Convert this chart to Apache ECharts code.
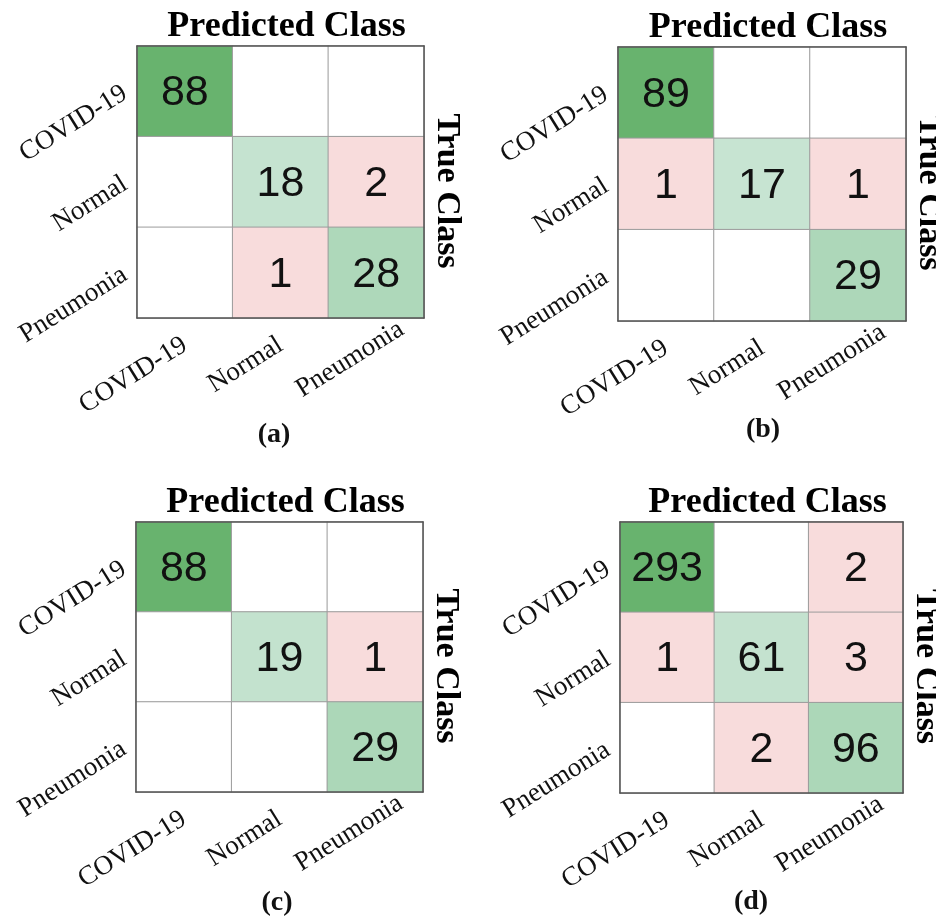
<!DOCTYPE html>
<html>
<head>
<meta charset="utf-8">
<script src="https://cdn.jsdelivr.net/npm/echarts@6/dist/echarts.min.js"></script>
<style>
  html, body { margin: 0; padding: 0; background: #ffffff; }
  #chart { width: 936px; height: 919px; }
</style>
</head>
<body>
<div id="chart"></div>
<script>
// Class labels shared by every confusion matrix
const classNames = ['COVID-19', 'Normal', 'Pneumonia'];
const panelTags = ['(a)', '(b)', '(c)', '(d)'];
const predictedTitle = 'Predicted Class';
const trueTitle = 'True Class';

// Confusion matrices: rows = true class, columns = predicted class
const matrixA = [[88, 0, 0], [0, 18, 2], [0, 1, 28]];
const matrixB = [[89, 0, 0], [1, 17, 1], [0, 0, 29]];
const matrixC = [[88, 0, 0], [0, 19, 1], [0, 0, 29]];
const matrixD = [[293, 0, 2], [1, 61, 3], [0, 2, 96]];
const matrices = [matrixA, matrixB, matrixC, matrixD];

// Plot boxes of the four panels (pixels)
const panelBoxes = [
  { left: 137, top: 46, width: 287, height: 272 },
  { left: 618, top: 47, width: 288, height: 274 },
  { left: 136, top: 522, width: 287, height: 270 },
  { left: 620, top: 522, width: 283, height: 271 }
];
const tagPositions = [[274, 435], [763, 430], [277, 903], [751, 902]];

const serif = '"Liberation Serif", "Times New Roman", serif';
const sans = '"Liberation Sans", Arial, sans-serif';

// Diagonal cells: white-to-green ramp by share of the largest diagonal count
const greenStops = [[0, '#e2f1e7'], [0.2, '#c6e3d1'], [0.33, '#acd7b8'], [1, '#68b36e']];
const offDiagColor = '#f8dcdc';

function hexToRgb(h) {
  const n = parseInt(h.slice(1), 16);
  return [(n >> 16) & 255, (n >> 8) & 255, n & 255];
}
function greenFor(t) {
  t = Math.max(0, Math.min(1, t));
  for (let i = 1; i < greenStops.length; i++) {
    const [t1, c1] = greenStops[i - 1];
    const [t2, c2] = greenStops[i];
    if (t <= t2) {
      const k = (t - t1) / (t2 - t1);
      const a = hexToRgb(c1), b = hexToRgb(c2);
      const rgb = a.map((v, j) => Math.round(v + (b[j] - v) * k));
      return 'rgb(' + rgb.join(',') + ')';
    }
  }
  return greenStops[greenStops.length - 1][1];
}

const grid = [], xAxis = [], yAxis = [], series = [], graphic = [];

matrices.forEach((m, i) => {
  const box = panelBoxes[i];
  grid.push({
    left: box.left, top: box.top, width: box.width, height: box.height,
    containLabel: false, outerBoundsMode: 'none'
  });

  const maxDiag = Math.max(...m.map((row, r) => row[r]));

  // bottom axis: predicted class labels
  xAxis.push({
    type: 'category', gridIndex: i, position: 'bottom', data: classNames.map(name => (
      name === 'Pneumonia' ? { value: name, textStyle: { padding: [22, -30, 0, 0] } } : name
    )),
    z: 10,
    axisLine: { show: true, lineStyle: { color: '#555', width: 1.5 } },
    axisTick: { show: false },
    splitLine: { show: false },
    axisLabel: { rotate: 32, margin: 25, fontFamily: serif, fontSize: 27, color: '#111', interval: 0 }
  });
  // top axis: border line and "Predicted Class" heading
  xAxis.push({
    type: 'category', gridIndex: i, position: 'top', data: classNames,
    z: 10,
    axisLine: { show: true, lineStyle: { color: '#555', width: 1.5 } },
    axisTick: { show: false }, axisLabel: { show: false }, splitLine: { show: false },
    name: predictedTitle, nameLocation: 'middle', nameGap: 1,
    nameTextStyle: { fontFamily: serif, fontWeight: 'bold', fontSize: 36, color: '#000', padding: [0, 0, 0, 12] }
  });
  // left axis: true class labels
  yAxis.push({
    type: 'category', gridIndex: i, position: 'left', data: classNames, inverse: true,
    z: 10,
    axisLine: { show: true, lineStyle: { color: '#555', width: 1.5 } },
    axisTick: { show: false },
    splitLine: { show: false },
    axisLabel: { rotate: 32, margin: 12, fontFamily: serif, fontSize: 27, color: '#111', interval: 0 }
  });
  // right axis: border line and "True Class" heading
  yAxis.push({
    type: 'category', gridIndex: i, position: 'right', data: classNames, inverse: true,
    z: 10,
    axisLine: { show: true, lineStyle: { color: '#555', width: 1.5 } },
    axisTick: { show: false }, axisLabel: { show: false }, splitLine: { show: false },
    name: trueTitle, nameLocation: 'middle', nameRotate: -90, nameGap: 6,
    nameTextStyle: { fontFamily: serif, fontWeight: 'bold', fontSize: 34, color: '#000', padding: [0, 0, 0, 18] }
  });

  const cells = [];
  m.forEach((row, r) => {
    row.forEach((v, c) => {
      let color = '#ffffff';
      if (v > 0) color = r === c ? greenFor(v / maxDiag) : offDiagColor;
      cells.push({ value: [c, r, v], itemStyle: { color: color } });
    });
  });

  series.push({
    type: 'heatmap',
    xAxisIndex: 2 * i,
    yAxisIndex: 2 * i,
    data: cells,
    itemStyle: { borderColor: '#9b9b9b', borderWidth: 1 },
    label: {
      show: true,
      fontFamily: sans,
      fontSize: 43,
      color: '#111',
      offset: [0, 2],
      formatter: p => (p.value[2] > 0 ? String(p.value[2]) : '')
    },
    emphasis: { disabled: true },
    silent: true
  });

  graphic.push({
    type: 'text',
    x: tagPositions[i][0],
    y: tagPositions[i][1],
    style: {
      text: panelTags[i],
      font: 'bold 28px ' + serif,
      fill: '#111',
      textAlign: 'center',
      textVerticalAlign: 'middle'
    }
  });
});

const chart = echarts.init(document.getElementById('chart'), null, { renderer: 'canvas' });
chart.setOption({
  backgroundColor: '#ffffff',
  animation: false,
  grid: grid,
  xAxis: xAxis,
  yAxis: yAxis,
  series: series,
  graphic: graphic
});
</script>
</body>
</html>
